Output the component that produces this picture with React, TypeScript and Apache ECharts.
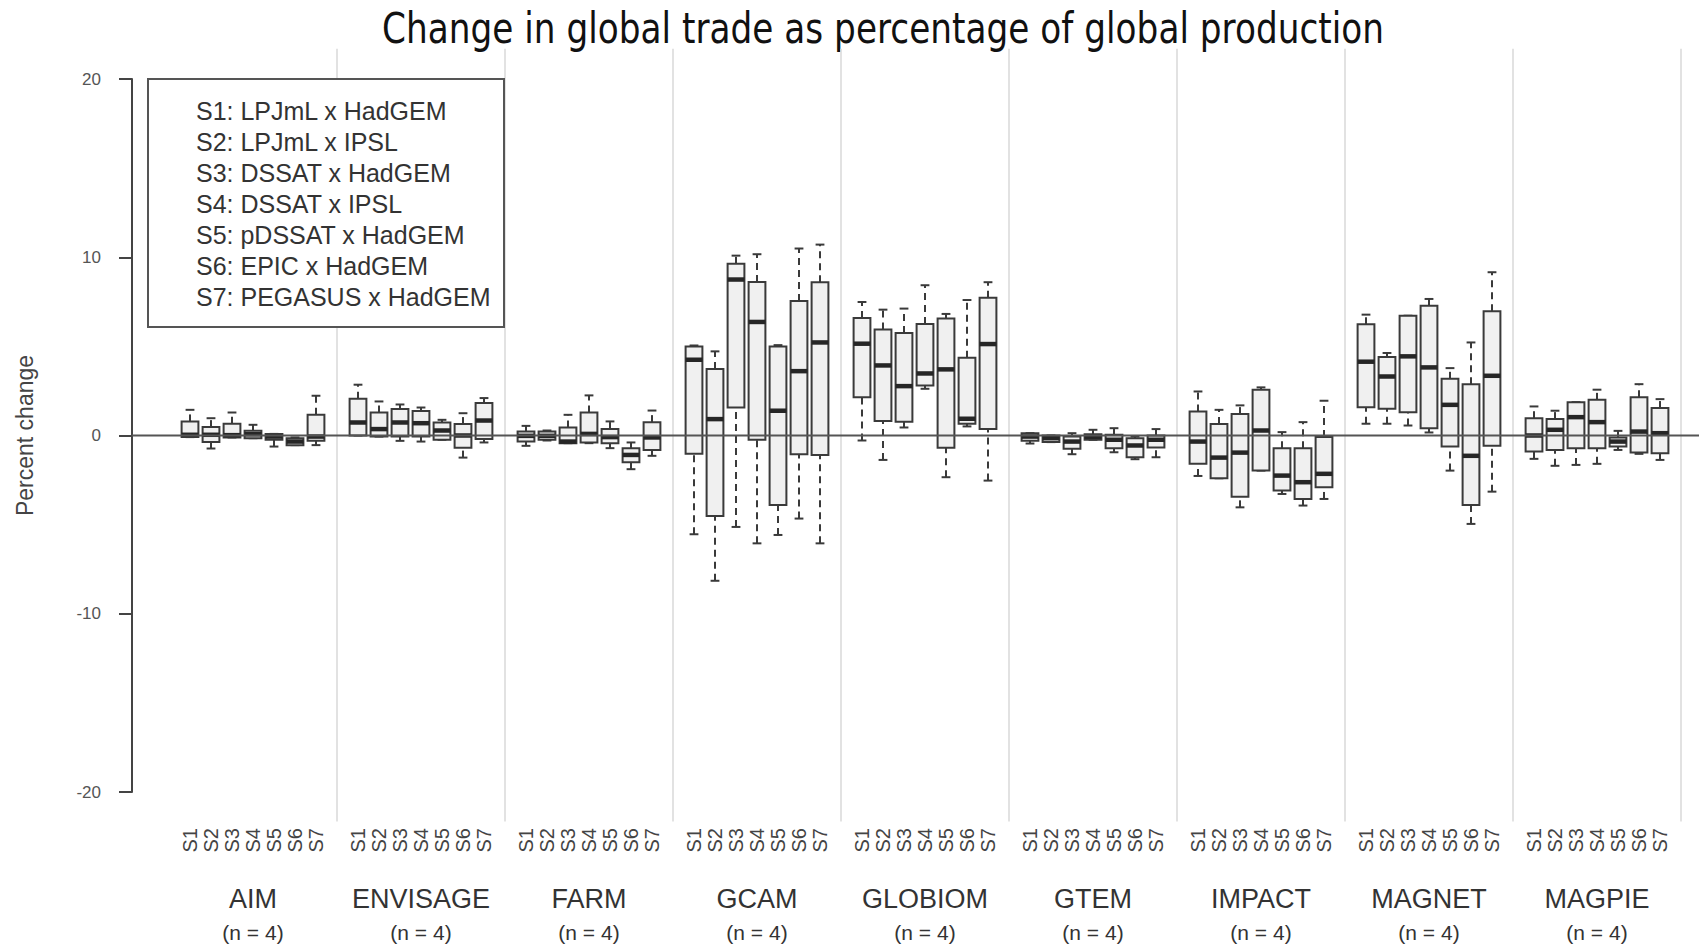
import React, { useEffect, useRef } from "react";
import * as echarts from "echarts";

// Models (groups along the x axis) and number of runs per model
const models = ["AIM", "ENVISAGE", "FARM", "GCAM", "GLOBIOM", "GTEM", "IMPACT", "MAGNET", "MAGPIE"];
const sampleSizes = [4, 4, 4, 4, 4, 4, 4, 4, 4];

// Crop x climate scenarios
const scenarios = ["S1", "S2", "S3", "S4", "S5", "S6", "S7"];
const scenarioNames = [
  "S1: LPJmL x HadGEM",
  "S2: LPJmL x IPSL",
  "S3: DSSAT x HadGEM",
  "S4: DSSAT x IPSL",
  "S5: pDSSAT x HadGEM",
  "S6: EPIC x HadGEM",
  "S7: PEGASUS x HadGEM",
];

// Box statistics per scenario: [min, q1, median, q3, max] (% change)
const aim = [
  [-0.09, -0.09, 0.04, 0.79, 1.44],
  [-0.73, -0.37, 0.04, 0.47, 0.97],
  [-0.11, -0.11, 0.02, 0.66, 1.29],
  [-0.15, -0.15, 0.07, 0.26, 0.6],
  [-0.62, -0.24, -0.06, 0.09, 0.09],
  [-0.54, -0.54, -0.34, -0.15, -0.11],
  [-0.54, -0.3, -0.06, 1.16, 2.23],
];
const envisage = [
  [0.0, 0.0, 0.73, 2.06, 2.85],
  [-0.06, -0.06, 0.36, 1.29, 1.91],
  [-0.3, -0.05, 0.73, 1.48, 1.74],
  [-0.34, -0.06, 0.69, 1.37, 1.57],
  [-0.24, -0.24, 0.28, 0.73, 0.88],
  [-1.24, -0.69, 0.0, 0.64, 1.25],
  [-0.39, -0.19, 0.84, 1.82, 2.1],
];
const farm = [
  [-0.58, -0.34, -0.02, 0.22, 0.54],
  [-0.28, -0.24, -0.02, 0.22, 0.28],
  [-0.43, -0.43, -0.34, 0.45, 1.16],
  [-0.43, -0.39, 0.09, 1.29, 2.25],
  [-0.71, -0.43, -0.09, 0.36, 0.79],
  [-1.89, -1.5, -1.09, -0.71, -0.39],
  [-1.14, -0.81, -0.11, 0.75, 1.4],
];
const gcam = [
  [-5.54, -1.03, 4.25, 5.0, 5.05],
  [-8.15, -4.51, 0.92, 3.73, 4.72],
  [-5.13, 1.57, 8.75, 9.63, 10.09],
  [-6.05, -0.24, 6.37, 8.61, 10.17],
  [-5.58, -3.9, 1.39, 5.0, 5.07],
  [-4.66, -1.05, 3.61, 7.55, 10.49],
  [-6.05, -1.1, 5.22, 8.6, 10.71],
];
const globiom = [
  [-0.28, 2.15, 5.15, 6.59, 7.49],
  [-1.37, 0.82, 3.93, 5.94, 7.06],
  [0.45, 0.77, 2.77, 5.75, 7.12],
  [2.62, 2.81, 3.48, 6.25, 8.43],
  [-2.34, -0.69, 3.71, 6.57, 6.82],
  [0.51, 0.66, 0.94, 4.36, 7.6],
  [-2.53, 0.37, 5.13, 7.73, 8.6],
];
const gtem = [
  [-0.45, -0.3, -0.06, 0.13, 0.13],
  [-0.37, -0.37, -0.15, 0.0, 0.0],
  [-1.05, -0.75, -0.34, -0.06, 0.13],
  [-0.24, -0.24, -0.07, 0.07, 0.32],
  [-0.94, -0.71, -0.24, 0.04, 0.41],
  [-1.33, -1.22, -0.56, -0.15, -0.06],
  [-1.22, -0.67, -0.24, 0.0, 0.36],
];
const impact = [
  [-2.27, -1.59, -0.34, 1.35, 2.47],
  [-2.4, -2.4, -1.24, 0.64, 1.44],
  [-4.03, -3.43, -0.96, 1.2, 1.69],
  [-1.97, -1.97, 0.28, 2.57, 2.7],
  [-3.28, -3.09, -2.25, -0.71, 0.19],
  [-3.93, -3.56, -2.62, -0.71, 0.75],
  [-3.56, -2.9, -2.15, -0.09, 1.95],
];
const magnet = [
  [0.66, 1.59, 4.14, 6.24, 6.78],
  [0.66, 1.5, 3.31, 4.4, 4.63],
  [0.56, 1.31, 4.44, 6.72, 6.72],
  [0.17, 0.41, 3.82, 7.28, 7.66],
  [-1.97, -0.62, 1.72, 3.18, 3.78],
  [-4.96, -3.9, -1.14, 2.88, 5.22],
  [-3.15, -0.58, 3.35, 6.97, 9.16],
];
const magpie = [
  [-1.31, -0.9, 0.0, 0.97, 1.63],
  [-1.7, -0.81, 0.32, 0.92, 1.39],
  [-1.65, -0.71, 1.03, 1.87, 1.87],
  [-1.59, -0.71, 0.75, 2.0, 2.57],
  [-0.81, -0.62, -0.34, -0.11, 0.26],
  [-1.03, -0.96, 0.22, 2.15, 2.88],
  [-1.37, -0.99, 0.13, 1.54, 2.04],
];
const modelStats = [aim, envisage, farm, gcam, globiom, gtem, impact, magnet, magpie];

// Y axis range and tick step
const yMin = -20;
const yMax = 20;
const yStep = 10;

const TITLE = "Change in global trade as percentage of global production";
const Y_NAME = "Percent change";

// Each model occupies 8 slots on the x scale: 7 boxes and one slot of spacing
const SLOT = 8;
const X_MIN = -1.762;
const X_MAX = 72.857;

const FONT = "'Liberation Sans', Arial, sans-serif";
const INK = "#3a3a3a";

export default function App() {
  const ref = useRef<HTMLDivElement>(null);

  useEffect(() => {
    if (!ref.current) return;
    const chart = echarts.init(ref.current, null, { renderer: "svg" });

    const boxRows: number[][] = [];
    modelStats.forEach((rows, g) =>
      rows.forEach((r, k) => boxRows.push([g * SLOT + k + 1, ...r]))
    );
    const boxPositions = boxRows.map((r) => r[0]);
    const separators = models.map((_, g) => [(g + 1) * SLOT]);
    const groupCenters = models.map((_, g) => g * SLOT + SLOT / 2);

    const legendLeft = 148;
    const legendTop = 79;
    const lineGap = 31.1;

    chart.setOption({
      animation: false,
      backgroundColor: "#ffffff",
      grid: { left: 132, right: 0, top: 79, bottom: 155, containLabel: false, outerBoundsMode: "none" },
      xAxis: [
        {
          type: "value",
          min: X_MIN,
          max: X_MAX,
          position: "bottom",
          axisLine: { show: false, onZero: false },
          axisTick: { show: false },
          splitLine: { show: false },
          axisLabel: {
            customValues: boxPositions,
            formatter: (v: number) => scenarios[(Math.round(v) - 1) % SLOT] ?? "",
            rotate: 90,
            margin: 36,
            fontSize: 20,
            color: "#444",
            fontFamily: FONT,
          },
        },
        {
          type: "value",
          min: X_MIN,
          max: X_MAX,
          position: "bottom",
          axisLine: { show: false, onZero: false },
          axisTick: { show: false },
          splitLine: { show: false },
          axisLabel: {
            customValues: groupCenters,
            formatter: (v: number) => {
              const g = Math.round((v - SLOT / 2) / SLOT);
              return `{m|${models[g]}}\n{n|(n = ${sampleSizes[g]})}`;
            },
            margin: 90,
            rich: {
              m: { fontSize: 27, lineHeight: 34, color: "#333", fontFamily: FONT },
              n: { fontSize: 21, lineHeight: 32, color: "#333", fontFamily: FONT },
            },
          },
        },
      ],
      yAxis: {
        type: "value",
        min: yMin,
        max: yMax,
        interval: yStep,
        name: Y_NAME,
        nameLocation: "middle",
        nameRotate: 90,
        nameGap: 96,
        nameTextStyle: { fontSize: 23, color: "#444", fontFamily: FONT },
        axisLine: { show: true, onZero: false, lineStyle: { color: "#444", width: 2 } },
        axisTick: { show: true, length: 13, lineStyle: { color: "#444", width: 2 } },
        axisLabel: { fontSize: 17, color: "#555", margin: 31, fontFamily: FONT },
        splitLine: { show: false },
      },
      graphic: [
        {
          type: "text",
          x: 883,
          y: 28.5,
          scaleX: 0.817,
          style: {
            text: TITLE,
            font: "42px 'DejaVu Sans', sans-serif",
            fill: "#111",
            textAlign: "center",
            textVerticalAlign: "middle",
          },
        },
        {
          type: "rect",
          z: 100,
          shape: { x: legendLeft, y: legendTop, width: 356, height: 248 },
          style: { fill: "#ffffff", stroke: "#555", lineWidth: 2 },
        },
        ...scenarioNames.map((name, i) => ({
          type: "text",
          z: 101,
          x: 196,
          y: 110.5 + i * lineGap,
          style: {
            text: name,
            font: `25px ${FONT}`,
            fill: "#333",
            textAlign: "left",
            textVerticalAlign: "middle",
          },
        })),
      ],
      series: [
        {
          // vertical separators between models
          type: "custom",
          clip: false,
          silent: true,
          z: 1,
          data: separators,
          renderItem: (_p: any, api: any) => {
            const x = api.value(0);
            const a = api.coord([x, 21.7]);
            const b = api.coord([x, -21.65]);
            return {
              type: "line",
              shape: { x1: a[0], y1: a[1], x2: b[0], y2: b[1] },
              style: { stroke: "#d9d9d9", lineWidth: 1.5 },
            };
          },
        },
        {
          // zero reference line
          type: "line",
          silent: true,
          symbol: "none",
          data: [
            [X_MIN, 0],
            [X_MAX, 0],
          ],
          lineStyle: { color: "#555", width: 2 },
        },
        {
          type: "custom",
          clip: false,
          silent: true,
          data: boxRows,
          encode: { x: 0, y: [1, 2, 3, 4, 5] },
          renderItem: (_p: any, api: any) => {
            const x = api.value(0);
            const mn = api.value(1);
            const q1 = api.value(2);
            const md = api.value(3);
            const q3 = api.value(4);
            const mx = api.value(5);
            const halfBox = 0.4;
            const halfCap = 0.21;
            const seg = (x1: number, y1: number, x2: number, y2: number, style: any) => {
              const a = api.coord([x1, y1]);
              const b = api.coord([x2, y2]);
              return { type: "line", shape: { x1: a[0], y1: a[1], x2: b[0], y2: b[1] }, style };
            };
            const dashed = { stroke: INK, lineWidth: 2, lineDash: [7, 5] };
            const solid = { stroke: INK, lineWidth: 2 };
            const children: any[] = [];
            if (mx > q3) children.push(seg(x, q3, x, mx, dashed));
            if (mn < q1) children.push(seg(x, mn, x, q1, dashed));
            children.push(seg(x - halfCap, mx, x + halfCap, mx, solid));
            children.push(seg(x - halfCap, mn, x + halfCap, mn, solid));
            const tl = api.coord([x - halfBox, q3]);
            const br = api.coord([x + halfBox, q1]);
            children.push({
              type: "rect",
              shape: { x: tl[0], y: tl[1], width: br[0] - tl[0], height: Math.max(br[1] - tl[1], 0.5) },
              style: { fill: "#f0f0f0", stroke: INK, lineWidth: 2 },
            });
            children.push(seg(x - halfBox, md, x + halfBox, md, { stroke: "#262626", lineWidth: 4.5 }));
            return { type: "group", children };
          },
        },
      ],
    });

    return () => chart.dispose();
  }, []);

  return (
    <div
      ref={ref}
      style={{ position: "absolute", left: 0, top: 0, width: 1699, height: 947, background: "#fff" }}
    />
  );
}
